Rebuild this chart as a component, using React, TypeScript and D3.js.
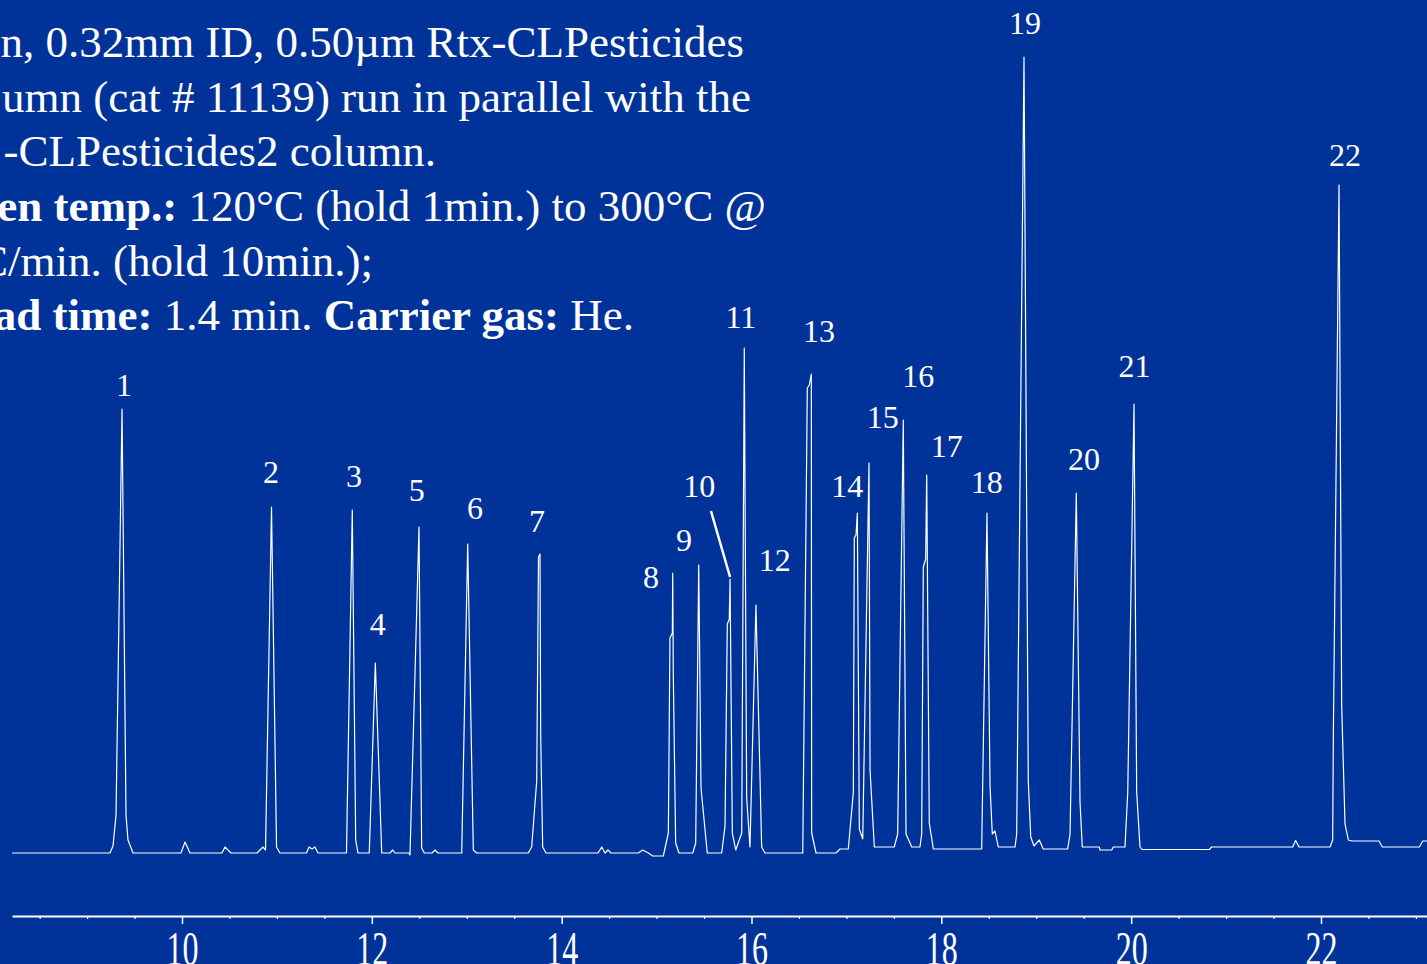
import { useEffect, useMemo, useRef } from "react";
import * as d3 from "d3";

const WIDTH = 1427;
const HEIGHT = 964;
const BG = "#003399";
const FONT = "'Liberation Serif', 'Times New Roman', serif";

// retention time (min) and detector response
const traceTime = [
  8.209, 9.241, 9.273, 9.305, 9.368, 9.41, 9.431, 9.484,
  9.989, 10.032, 10.084,
  10.421, 10.453, 10.516,
  10.79, 10.853, 10.88, 10.943, 10.996, 11.032,
  11.312, 11.338, 11.37, 11.401, 11.433,
  11.733, 11.794, 11.83, 11.854,
  11.973, 12.037, 12.104,
  12.191, 12.22, 12.244,
  12.392, 12.402, 12.497, 12.525, 12.553,
  12.634, 12.666, 12.697,
  12.947, 13.01, 13.069, 13.105,
  13.648, 13.684, 13.737, 13.756, 13.772, 13.779, 13.8, 13.835,
  14.383, 14.422, 14.457, 14.488, 14.52,
  14.807, 14.854, 14.913, 14.959, 15.071,
  15.124, 15.141, 15.166, 15.17, 15.176, 15.201, 15.236,
  15.381, 15.412, 15.444, 15.468, 15.534,
  15.686, 15.721, 15.745, 15.766, 15.774, 15.798, 15.834,
  15.897, 15.924, 15.949, 15.984,
  16.047, 16.107, 16.142,
  16.54, 16.588, 16.609, 16.63, 16.634, 16.68,
  16.89, 16.932, 17.02,
  17.073, 17.083, 17.101, 17.115, 17.136, 17.172,
  17.238, 17.249, 17.294, 17.504,
  17.54, 17.599, 17.628, 17.688, 17.775,
  17.793, 17.81, 17.835, 17.846, 17.873, 17.916, 18.425,
  18.481, 18.513, 18.537, 18.565, 18.6, 18.776,
  18.794, 18.871, 18.916, 18.942, 18.976, 19.032, 19.074, 19.331,
  19.356, 19.422, 19.461, 19.485, 19.664, 19.672, 19.795, 19.812, 19.935,
  19.964, 20.03, 20.058, 20.093, 20.114, 20.823, 20.848, 21.702, 21.733, 21.768, 22.095,
  22.123, 22.13, 22.19, 22.218, 22.253, 22.288, 22.324, 22.611, 22.646, 23.036, 23.072, 23.148,
];
const traceSignal = [
  0, 0, 7, 38, 444, 38, 13, 0,
  0, 11, 0,
  0, 6, 0,
  0, 6, 3, 346, 6, 0,
  0, 6, 4, 6, 0,
  0, 343, 13, 0,
  0, 190, 0,
  0, 3, 0,
  0, -2, 326, 5, 0,
  0, 3, 0,
  0, 309, 3, 0,
  0, 6, 72, 296, 299, 117, 6, 0,
  0, 6, 0, 3, 0,
  0, 3, 0, -3, -3,
  20, 215, 220, 280, 179, 10, 0,
  0, 10, 288, 65, 0,
  0, 27, 229, 234, 274, 20, 3,
  20, 505, 55, 6,
  248, 6, 0,
  0, 465, 468, 479, 20, 0,
  0, 4, 4,
  61, 315, 318, 340, 24, 14,
  390, 83, 6, 6,
  19, 433, 19, 6, 6,
  19, 286, 294, 378, 30, 4, 4,
  340, 67, 19, 22, 6, 6,
  19, 796, 72, 16, 7, 13, 4, 4,
  19, 360, 51, 6, 6, 3, 3, 6, 6,
  61, 449, 61, 6, 3.5, 3.5, 6, 6, 12.5, 6, 6,
  13, 116, 668, 147, 29, 13, 12, 12, 6, 6, 12, 12,
];

// peak numbers and where their labels sit (time, response)
const peakLabels = ["1", "2", "3", "4", "5", "6", "7", "8", "9", "10", "11",
  "12", "13", "14", "15", "16", "17", "18", "19", "20", "21", "22"];
const labelTime = [9.389, 10.938, 11.812, 12.062, 12.473, 13.087, 13.74, 14.941,
  15.289, 15.45, 15.889, 16.244, 16.711, 17.009, 17.382, 17.757, 18.057, 18.478,
  18.882, 19.503, 20.035, 22.253];
const labelSignal = [457, 370, 366.5, 218, 352.5, 334, 321.5, 265, 302.5, 356, 525,
  282.5, 511, 356.5, 425.5, 466.3, 396, 360.4, 819, 383, 476, 687];

// pointer from label 10 to its peak
const leaderTime = [15.573, 15.774];
const leaderSignal = [342, 276];

const majorTicks = [10, 12, 14, 16, 18, 20, 22];
const minorTicks = [8.5, 9, 9.5, 10.5, 11, 11.5, 12.5, 13, 13.5, 14.5, 15, 15.5,
  16.5, 17, 17.5, 18.5, 19, 19.5, 20.5, 21, 21.5, 22.5, 23];

// conditions text, partly off the left edge of the slide
const noteLines = [
  [["n, 0.32mm ID, 0.50\u00b5m Rtx-CLPesticides", false]],
  [["umn (cat # 11139) run in parallel with the", false]],
  [["-CLPesticides2 column.", false]],
  [["en temp.:", true], [" 120\u00b0C (hold 1min.) to 300\u00b0C @", false]],
  [["C/min. (hold 10min.);", false]],
  [["ad time:", true], [" 1.4 min. ", false], ["Carrier gas:", true], [" He.", false]],
];
const noteRight = [744, 751, 436, 766, 373, 634];
const noteBaseline = [57, 112, 166, 221, 276, 330];

const AXIS_Y = 916;

export default function App() {
  const majorRef = useRef(null);
  const minorRef = useRef(null);

  const x = useMemo(() => d3.scaleLinear().domain([10, 22]).range([182, 1321]), []);
  const y = useMemo(() => d3.scaleLinear().domain([0, 800]).range([853, 53]), []);

  const tracePath = useMemo(() => {
    const pts = traceTime.map((t, i) => [t, traceSignal[i]]);
    return d3.line().x((d) => x(d[0])).y((d) => y(d[1]))(pts);
  }, [x, y]);

  useEffect(() => {
    const axisX = x.copy().domain([8.209, 23.2]).range([x(8.209), x(23.2)]);

    const major = d3.select(majorRef.current);
    major.call(
      d3.axisBottom(axisX).tickValues(majorTicks).tickSize(8).tickSizeOuter(0)
        .tickFormat(d3.format("d"))
    );
    major.attr("font-size", null).attr("font-family", null);
    major.select(".domain").attr("stroke", "#ffffff").attr("stroke-width", 2);
    major.selectAll(".tick line").attr("stroke", "#ffffff").attr("stroke-width", 1.5);
    major.selectAll(".tick text")
      .attr("fill", "#ffffff")
      .attr("font-size", 32)
      .attr("font-family", FONT)
      .attr("y", 0)
      .attr("dy", null)
      .attr("transform", "translate(0,49) scale(1,1.5)");

    const minor = d3.select(minorRef.current);
    minor.call(
      d3.axisBottom(axisX).tickValues(minorTicks).tickSize(3).tickSizeOuter(0)
        .tickFormat(() => "")
    );
    minor.select(".domain").remove();
    minor.selectAll(".tick line").attr("stroke", "#ffffff").attr("stroke-width", 1.2);
  }, [x]);

  return (
    <svg
      width={WIDTH}
      height={HEIGHT}
      style={{ position: "absolute", left: 0, top: 0, display: "block" }}
    >
      <rect width={WIDTH} height={HEIGHT} fill={BG} />

      {noteLines.map((parts, i) => (
        <text
          key={i}
          x={noteRight[i]}
          y={noteBaseline[i]}
          textAnchor="end"
          fill="#ffffff"
          fontFamily={FONT}
          fontSize={45}
        >
          {parts.map(([s, bold], j) => (
            <tspan key={j} fontWeight={bold ? 700 : 400}>{s}</tspan>
          ))}
        </text>
      ))}

      <path d={tracePath} fill="none" stroke="#ffffff" strokeWidth={1.2} strokeLinejoin="round" />

      <line
        x1={x(leaderTime[0])}
        y1={y(leaderSignal[0])}
        x2={x(leaderTime[1])}
        y2={y(leaderSignal[1])}
        stroke="#ffffff"
        strokeWidth={2.5}
      />

      {peakLabels.map((lab, i) => (
        <text
          key={lab}
          x={x(labelTime[i])}
          y={y(labelSignal[i])}
          textAnchor="middle"
          fill="#ffffff"
          fontFamily={FONT}
          fontSize={32}
        >
          {lab}
        </text>
      ))}

      <g ref={minorRef} transform={`translate(0,${AXIS_Y})`} />
      <g ref={majorRef} transform={`translate(0,${AXIS_Y})`} />
    </svg>
  );
}
